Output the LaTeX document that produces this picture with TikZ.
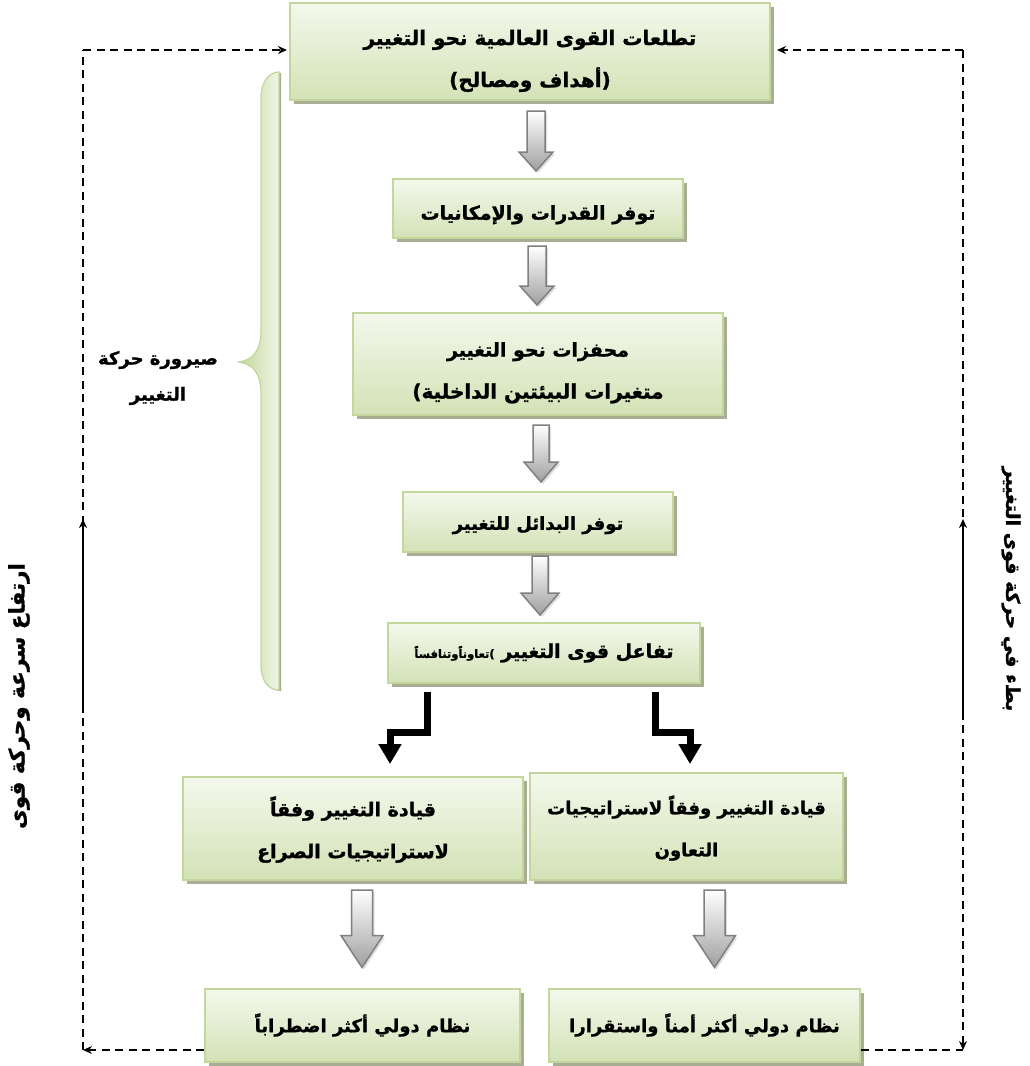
\documentclass[tikz,border=0pt]{standalone}
\usepackage{fontspec}
\usetikzlibrary{shadows,calc,arrows.meta}
\TeXXeTstate=1
\newfontfamily\arabicfont[Script=Arabic,BoldFeatures={FakeBold=1.2}]{DejaVu Sans}
\definecolor{boxedge}{HTML}{C3D69B}
\definecolor{boxtop}{HTML}{F4F8EC}
\definecolor{boxbot}{HTML}{D3E2B6}
\definecolor{shadowc}{HTML}{A9AD93}
\definecolor{arrowedge}{HTML}{7F7F7F}
\definecolor{braceA}{HTML}{C3D69B}
\definecolor{braceB}{HTML}{F1F6E6}
\newcommand\blockarr[5]{%
  \shade[blockarrow] let \p1=(#1), \p2=(#2) in
    (\x1-#3,\y1) -- (\x1+#3,\y1) -- (\x1+#3,\y2+#5) -- (\x1+#4,\y2+#5) --
    (\x1,\y2) -- (\x1-#4,\y2+#5) -- (\x1-#3,\y2+#5) -- cycle;}
\newcommand\fsz[1]{\fontsize{#1}{42}\selectfont}
\newcommand\tup[1]{\rule{0pt}{#1}}
\tikzset{
  box/.style={draw=boxedge, line width=2pt, top color=boxtop, bottom color=boxbot,
    align=center, inner sep=0pt,
    font=\arabicfont\bfseries\fsz{19},
    drop shadow={shadow xshift=4pt, shadow yshift=-4pt, fill=shadowc, opacity=1}},
  blockarrow/.style={top color=white, bottom color=gray!75, draw=arrowedge,
    line width=1.5pt, line join=miter,
    drop shadow={shadow xshift=2pt, shadow yshift=-2pt, fill=gray!25, opacity=1}},
  elbow/.style={line width=7pt, line join=miter, -{Triangle[length=20pt,width=22pt]}},
  dashline/.style={line width=2pt, dash pattern=on 8pt off 5.5pt},
  solidline/.style={line width=2pt},
  tip/.style={-{Stealth[length=9pt,width=8pt]}},
  bracetext/.style={font=\arabicfont\bfseries\fontsize{18}{36}\selectfont, align=center}
}
\begin{document}
\begin{tikzpicture}[x=1pt,y=-1pt]
\useasboundingbox (0,0) rectangle (1029,1066);

% boxes
\node[box, minimum width=480, minimum height=97, font=\arabicfont\bfseries\fsz{20}] (top) at (530,51.5)
  {\tup{34pt}\beginR تطلعات القوى العالمية نحو التغيير\endR\\)\beginR أهداف ومصالح\endR(};
\node[box, minimum width=290, minimum height=59] (b2) at (538,208.5)
  {\tup{27pt}\beginR توفر القدرات  والإمكانيات\endR};
\node[box, minimum width=370, minimum height=102] (b3) at (538,364)
  {\tup{32pt}\beginR محفزات نحو التغيير\endR\\{\fsz{20})\beginR متغيرات البيئتين الداخلية\endR}};
\node[box, minimum width=270, minimum height=60, font=\arabicfont\bfseries\fsz{18}] (b4) at (538,522)
  {\tup{20pt}\beginR توفر البدائل للتغيير\endR};
\node[box, minimum width=312, minimum height=60] (b5) at (544,653)
  {{\fontsize{11.5}{14}\selectfont\beginR تعاوناًوتنافساً\endR)}\ \beginR تفاعل قوى التغيير\endR};
\node[box, minimum width=340, minimum height=103] (lm) at (353,828.5)
  {\tup{22pt}\beginR قيادة التغيير وفقاً\endR\\\beginR لاستراتيجيات الصراع\endR};
\node[box, minimum width=313, minimum height=107, font=\arabicfont\bfseries\fsz{18}] (rm) at (686.5,826.5)
  {\tup{22pt}\beginR قيادة التغيير وفقاً لاستراتيجيات\endR\\\beginR التعاون\endR};
\node[box, minimum width=315, minimum height=73, font=\arabicfont\bfseries\fsz{18}] (lb) at (362.5,1025)
  {\beginR نظام دولي أكثر اضطراباً\endR};
\node[box, minimum width=311, minimum height=73, font=\arabicfont\bfseries\fsz{18}] (rb) at (704.5,1025)
  {\beginR نظام دولي أكثر أمناً واستقرارا\endR};

% hollow block arrows
\blockarr{$(top.south)+(6,10)$}{$(b2.north)+(0,-7)$}{9pt}{17pt}{19pt}
\blockarr{$(b2.south)+(-1,7)$}{$(b3.north)+(0,-7)$}{9pt}{17pt}{19pt}
\blockarr{$(b3.south)+(3,9)$}{$(b4.north)+(0,-9)$}{8pt}{17pt}{20pt}
\blockarr{$(b4.south)+(2,3)$}{$(b5.north)+(0,-7)$}{8pt}{19pt}{22pt}
\blockarr{$(lm.south)+(9,9)$}{$(lb.north)+(0,-20)$}{10.5pt}{21pt}{32pt}
\blockarr{$(rm.south)+(28,9)$}{$(rb.north)+(0,-20)$}{10.5pt}{21pt}{32pt}

% elbow connectors
\draw[elbow] ($(b5.south)+(-117,8)$) -- ++(0,40) -| ($(lm.north)+(37,-12)$);
\draw[elbow] ($(b5.south)+(111,8)$) -- ++(0,40) -| ($(rm.north)+(3.5,-8)$);

% brace
\shade[left color=braceA, right color=braceB, draw=boxedge, line width=1.2pt,
  drop shadow={shadow xshift=2pt, shadow yshift=-1pt, fill=shadowc, opacity=1}]
  (279,72) -- (279,690) .. controls (269,690) and (261,682) .. (261,664)
  -- (261,394) .. controls (261,372) and (252,364) .. (239,362)
  .. controls (252,360) and (261,352) .. (261,330)
  -- (261,98) .. controls (261,82) and (269,72) .. (279,72) -- cycle;
\node[bracetext] (bracelabel) at (158,378) {\beginR صيرورة حركة\endR\\\beginR التغيير\endR};

% dashed feedback frame
\coordinate (tl) at (83,50);
\coordinate (tr) at (963,50);
\coordinate (bl) at (83,1050);
\coordinate (br) at (963,1050);
\coordinate (lup1) at (83,713);
\coordinate (lup2) at (83,519);
\coordinate (rup1) at (963,713);
\coordinate (rup2) at (963,519);
\draw[dashline, tip] (lb.west |- bl) -- (bl);
\draw[dashline] (bl) -- (tl);
\draw[dashline, tip, shorten >=2pt] (tl) -- (top.west |- tl);
\draw[dashline] (rb.east |- br) -- (br);
\draw[dashline, tip] (tr) -- (br);
\draw[dashline, tip, shorten >=6pt] (tr) -- (top.east |- tr);
\draw[solidline, tip] (lup1) -- (lup2);
\draw[solidline, tip] (rup1) -- (rup2);

% side labels
\node[font=\arabicfont\bfseries\fontsize{21.5}{24}\selectfont, rotate=90] (lefttext) at (19,696) {\beginR ارتفاع سرعة وحركة قوى\endR};
\node[font=\arabicfont\bfseries\fontsize{19}{22}\selectfont, rotate=-90] (righttext) at (1011,589) {\beginR بطء في حركة قوى التغيير\endR};
\end{tikzpicture}
\end{document}
